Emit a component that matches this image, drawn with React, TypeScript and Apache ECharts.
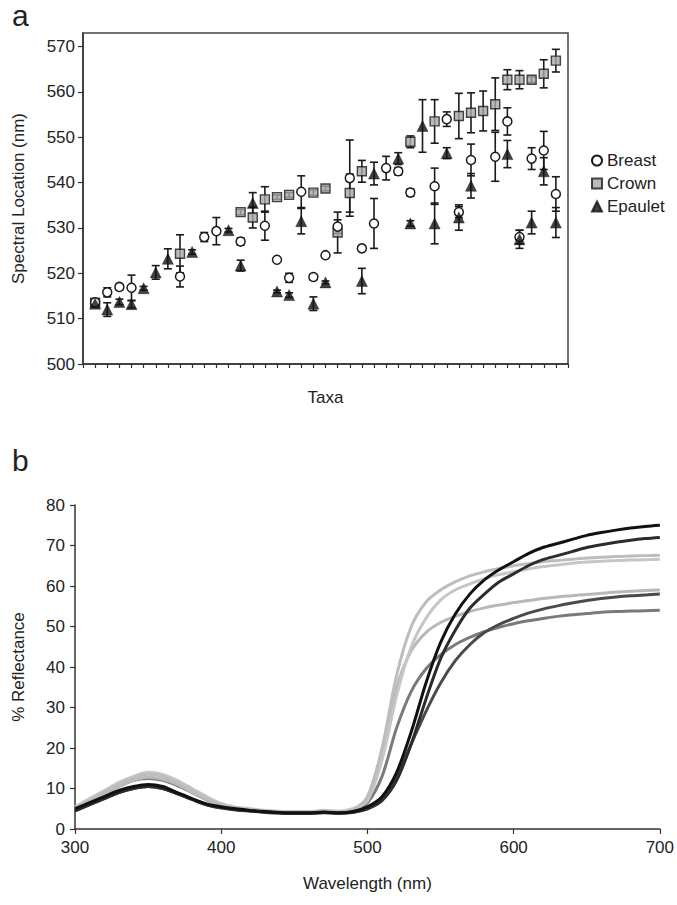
import React, { useEffect, useRef } from "react";
import * as echarts from "echarts";

// ---------- Panel a data (taxa 1..39) ----------
const taxa = Array.from({ length: 39 }, (_, i) => i + 1);
const breastVal = [513.6, 515.8, 517.0, 516.8, null, null, null, 519.3, null, 528.0, 529.3, null, 527.0, null, 530.5, 523.0, 519.0, 538.0, 519.2, 524.0, 530.3, 541.0, 525.5, 531.0, 543.2, 542.5, 537.8, null, 539.2, 554.0, 533.5, 545.0, null, 545.7, 553.5, 528.0, 545.3, 547.1, 537.5];
const breastErr = [0.5, 1.0, 0.6, 2.8, 0, 0, 0, 2.3, 0, 1.0, 3.0, 0, 0.8, 0, 3.2, 0, 1.0, 3.5, 0.6, 0, 1.5, 8.4, 0.6, 5.5, 2.6, 0.8, 0.8, 0, 4.0, 1.6, 1.2, 3.5, 0, 5.4, 3.0, 1.5, 2.4, 4.2, 3.8];
const crownVal = [513.5, null, null, null, null, null, null, 524.3, null, null, null, null, 533.5, 532.3, 536.3, 536.8, 537.3, null, 537.8, 538.7, 529.0, 537.7, 542.5, null, null, null, 549.0, null, 553.5, null, 554.7, 555.4, 555.8, 557.3, 562.7, 562.7, 562.7, 564.0, 566.9];
const crownErr = [0.5, 0, 0, 0, 0, 0, 0, 4.2, 0, 0, 0, 0, 0.6, 2.3, 2.8, 0.5, 0.5, 0, 0.6, 0.5, 4.5, 4.2, 2.4, 0, 0, 0, 1.3, 0, 4.8, 0, 5.0, 4.4, 4.4, 5.8, 2.2, 2.0, 0.6, 3.1, 2.5];
const epauletVal = [513.3, 512.0, 513.7, 513.2, 516.7, 520.2, 523.2, null, 524.7, null, null, 529.5, 521.7, 535.5, null, 516.0, 515.2, 531.5, 513.3, 518.0, null, null, 518.3, 542.0, null, 545.3, 531.0, 552.5, 531.0, 546.5, 532.3, 539.3, null, null, 546.3, 527.5, 531.2, 542.5, 531.2];
const epauletErr = [0.5, 1.5, 0.6, 0.8, 0.4, 1.5, 2.2, 0, 0.5, 0, 0, 0.4, 1.2, 2.3, 0, 0.3, 0.5, 2.8, 1.5, 0.3, 0, 0, 2.8, 2.5, 0, 1.3, 0.6, 5.8, 4.5, 1.2, 2.8, 2.7, 0, 0, 3.0, 2.0, 2.5, 3.0, 3.3];
const yTicksA = [500, 510, 520, 530, 540, 550, 560, 570];

// ---------- Panel b data (wavelength 300..700 step 10) ----------
const wavelengths = Array.from({ length: 41 }, (_, i) => 300 + i * 10);
const spec1 = [5, 6.5, 8, 9.5, 10.5, 11, 10.5, 9, 7.5, 6.2, 5.5, 5, 4.6, 4.3, 4.1, 4, 4, 4.2, 4, 4.3, 5.5, 8, 14, 24, 36, 46, 53, 58, 61.5, 64, 66, 68, 69.5, 70.5, 71.5, 72.5, 73.2, 73.8, 74.3, 74.7, 75];
const spec2 = [4.5, 6, 7.5, 9, 10, 10.5, 10, 8.7, 7.3, 6, 5.3, 4.8, 4.5, 4.2, 4, 3.9, 3.9, 4.1, 3.9, 4.2, 5, 7, 12, 21, 32, 42, 49, 54.5, 58, 61, 63, 65, 66.5, 67.5, 68.5, 69.5, 70.2, 70.8, 71.3, 71.7, 72];
const spec3 = [5, 7, 9, 11, 12.5, 13.5, 13, 11.5, 9.5, 7.5, 6, 5.2, 4.8, 4.5, 4.3, 4.2, 4.2, 4.5, 4.3, 4.8, 8, 20, 38, 50, 56, 59, 61, 62.5, 63.5, 64.3, 65, 65.5, 66, 66.3, 66.6, 66.9, 67.1, 67.3, 67.4, 67.5, 67.6];
const spec4 = [5.5, 7.5, 9.5, 11.5, 13, 14, 13.5, 12, 10, 8, 6.3, 5.4, 5, 4.6, 4.4, 4.3, 4.3, 4.6, 4.4, 5, 7, 17, 33, 45, 52, 56.5, 59, 60.5, 61.8, 62.8, 63.5, 64.2, 64.8, 65.2, 65.6, 65.9, 66.1, 66.3, 66.4, 66.5, 66.6];
const spec5 = [5, 6.5, 8.5, 10.5, 12, 12.8, 12.3, 11, 9, 7.3, 6, 5.2, 4.8, 4.5, 4.3, 4.2, 4.2, 4.4, 4.2, 4.6, 7.5, 19, 35, 44, 48.5, 51, 52.5, 53.7, 54.6, 55.3, 55.9, 56.4, 56.9, 57.3, 57.6, 57.9, 58.2, 58.5, 58.7, 58.9, 59];
const spec6 = [4.5, 6, 7.5, 9, 10, 10.5, 10, 8.8, 7.3, 6, 5.2, 4.7, 4.4, 4.1, 3.9, 3.8, 3.8, 4, 3.9, 4.1, 5, 7.5, 13, 21, 29, 36, 41.5, 45.5, 48.5, 50.5, 52, 53.3, 54.3, 55.1, 55.8, 56.4, 56.9, 57.3, 57.6, 57.8, 58];
const spec7 = [5, 6.8, 8.7, 10.5, 12, 12.5, 12, 10.7, 9, 7.2, 6, 5.1, 4.7, 4.4, 4.2, 4.1, 4.1, 4.3, 4.1, 4.5, 6.5, 13, 25, 34, 39.5, 43, 45.5, 47.3, 48.7, 49.8, 50.7, 51.4, 52, 52.5, 52.9, 53.2, 53.5, 53.7, 53.8, 53.9, 54];
const spectra = [spec7, spec5, spec4, spec3, spec6, spec2, spec1];
const spectraColors = ["#7a7a7a", "#b8b8b8", "#c6c6c6", "#bdbdbd", "#4a4a4a", "#2c2c2c", "#111111"];

const FONT = "Liberation Sans, Arial, Helvetica, sans-serif";

function errData(vals: (number | null)[], errs: number[]) {
  const out: any[] = [];
  vals.forEach((v, i) => {
    if (v != null && errs[i] > 0) out.push([taxa[i], v, errs[i]]);
  });
  return out;
}
function ptData(vals: (number | null)[]) {
  const out: any[] = [];
  vals.forEach((v, i) => {
    if (v != null) out.push([taxa[i], v]);
  });
  return out;
}

const errRender = (params: any, api: any) => {
  const x = api.value(0);
  const y = api.value(1);
  const e = api.value(2);
  const top = api.coord([x, y + e]);
  const bot = api.coord([x, y - e]);
  const w = 4;
  const st = { stroke: "#1a1a1a", lineWidth: 1.6 };
  return {
    type: "group",
    children: [
      { type: "line", shape: { x1: top[0], y1: top[1], x2: bot[0], y2: bot[1] }, style: st },
      { type: "line", shape: { x1: top[0] - w, y1: top[1], x2: top[0] + w, y2: top[1] }, style: st },
      { type: "line", shape: { x1: bot[0] - w, y1: bot[1], x2: bot[0] + w, y2: bot[1] }, style: st },
    ],
  };
};

export default function App() {
  const ref = useRef<HTMLDivElement>(null);
  useEffect(() => {
    document.body.style.margin = "0";
    const chart = echarts.init(ref.current!, null, { renderer: "svg" });
    const axisLabel = { color: "#222", fontSize: 17, fontFamily: FONT };
    const nameStyle = { color: "#222", fontSize: 17, fontFamily: FONT };
    const axisLine = { show: true, lineStyle: { color: "#333", width: 1.5 } };
    const axisTick = { show: true, length: 5, lineStyle: { color: "#333", width: 1.2 } };
    chart.setOption({
      animation: false,
      backgroundColor: "#fff",
      textStyle: { fontFamily: FONT },
      grid: [
        { left: 83, top: 33, width: 485, height: 331, show: true, borderColor: "#444", borderWidth: 1.5, backgroundColor: "transparent" },
        { left: 75, top: 505, width: 587, height: 324 },
      ],
      xAxis: [
        {
          gridIndex: 0, type: "value", min: 0, max: 40, interval: 1,
          axisLine, axisTick: { ...axisTick, length: 4 }, axisLabel: { show: false }, splitLine: { show: false },
          name: "Taxa", nameLocation: "middle", nameGap: 25, nameTextStyle: nameStyle,
        },
        {
          gridIndex: 1, type: "value", min: 300, max: 700, interval: 100,
          axisLine, axisTick, axisLabel: { ...axisLabel, margin: 10 }, splitLine: { show: false },
          name: "Wavelength (nm)", nameLocation: "middle", nameGap: 46, nameTextStyle: nameStyle,
        },
      ],
      yAxis: [
        {
          gridIndex: 0, type: "value", min: 500, max: 573, interval: 10,
          axisLine, axisTick, axisLabel: { ...axisLabel, showMaxLabel: false, margin: 8, formatter: (v: number) => (yTicksA.includes(v) ? String(v) : "") },
          splitLine: { show: false },
          name: "Spectral Location (nm)", nameLocation: "middle", nameGap: 56, nameRotate: 90, nameTextStyle: nameStyle,
        },
        {
          gridIndex: 1, type: "value", min: 0, max: 80, interval: 10,
          axisLine, axisTick, axisLabel: { ...axisLabel, margin: 10 }, splitLine: { show: false },
          name: "% Reflectance", nameLocation: "middle", nameGap: 48, nameRotate: 90, nameTextStyle: nameStyle,
        },
      ],
      legend: {
        left: 586, top: 147, orient: "vertical", itemWidth: 10, itemHeight: 10, itemGap: 6,
        data: ["Breast", "Crown", "Epaulet"],
        textStyle: { fontSize: 17, color: "#222", fontFamily: FONT },
      },
      graphic: [
        { type: "text", left: 12, top: 0, style: { text: "a", fontSize: 30, fill: "#222", fontFamily: FONT } },
        { type: "text", left: 12, top: 445, style: { text: "b", fontSize: 30, fill: "#222", fontFamily: FONT } },
      ],
      series: [
        { type: "custom", name: "Crown err", xAxisIndex: 0, yAxisIndex: 0, renderItem: errRender, data: errData(crownVal, crownErr), encode: { x: 0, y: 1 }, z: 1 },
        { type: "custom", name: "Breast err", xAxisIndex: 0, yAxisIndex: 0, renderItem: errRender, data: errData(breastVal, breastErr), encode: { x: 0, y: 1 }, z: 1 },
        { type: "custom", name: "Epaulet err", xAxisIndex: 0, yAxisIndex: 0, renderItem: errRender, data: errData(epauletVal, epauletErr), encode: { x: 0, y: 1 }, z: 1 },
        {
          type: "scatter", name: "Crown", xAxisIndex: 0, yAxisIndex: 0, symbol: "rect", symbolSize: 9, z: 3,
          itemStyle: { color: "#a9a9a9", borderColor: "#1a1a1a", borderWidth: 1.4 }, data: ptData(crownVal),
        },
        {
          type: "scatter", name: "Breast", xAxisIndex: 0, yAxisIndex: 0, symbol: "circle", symbolSize: 9, z: 4,
          itemStyle: { color: "#ffffff", borderColor: "#1a1a1a", borderWidth: 1.5, opacity: 1 }, data: ptData(breastVal),
        },
        {
          type: "scatter", name: "Epaulet", xAxisIndex: 0, yAxisIndex: 0, symbol: "triangle", symbolSize: 11, z: 5,
          itemStyle: { color: "#111111", borderColor: "#111111", borderWidth: 0.5 }, data: ptData(epauletVal),
        },
        ...spectra.map((s, k) => ({
          type: "line", name: "spec" + k, xAxisIndex: 1, yAxisIndex: 1, showSymbol: false, smooth: 0.3,
          lineStyle: { color: spectraColors[k], width: 3 },
          data: wavelengths.map((w, i) => [w, s[i]]),
        })),
      ],
    });
    return () => chart.dispose();
  }, []);
  return <div ref={ref} style={{ position: "absolute", left: 0, top: 0, width: 677, height: 905 }} />;
}
